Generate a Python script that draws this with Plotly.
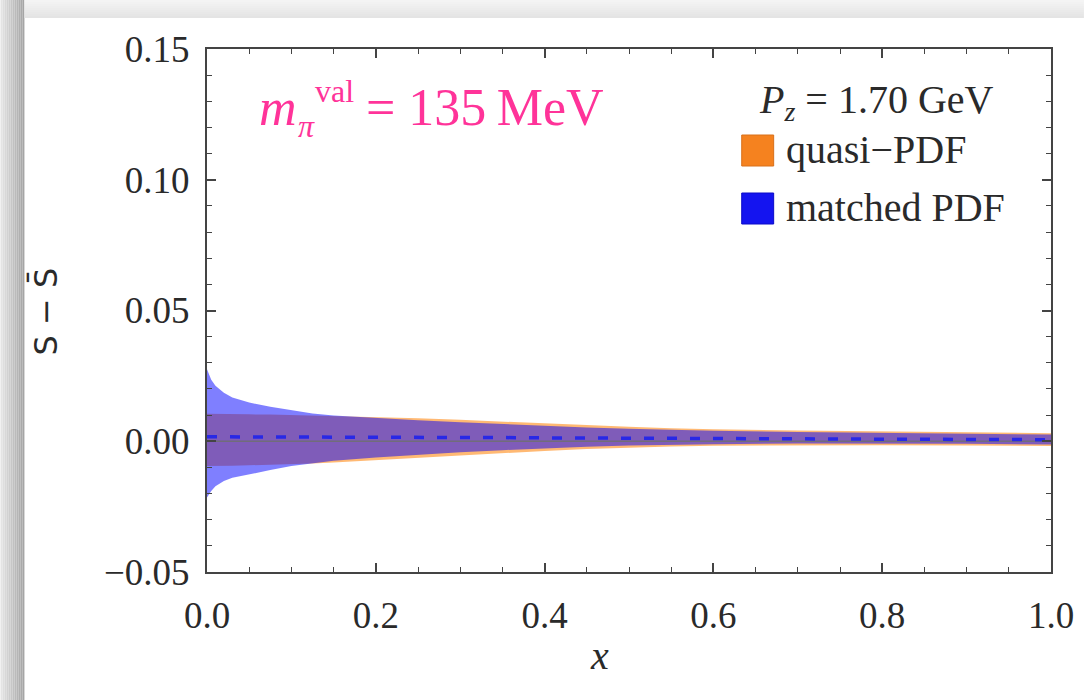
import plotly.graph_objects as go

# ---------------- data ----------------
x_pts = [0.0, 0.005, 0.01, 0.02, 0.03, 0.05, 0.075, 0.1, 0.125, 0.15, 0.2, 0.25,
         0.3, 0.35, 0.4, 0.45, 0.5, 0.55, 0.6, 0.7, 0.8, 0.9, 1.0]

quasi_upper = [0.0105, 0.0105, 0.0105, 0.0105, 0.0104, 0.0103, 0.0102, 0.0100, 0.0099,
               0.0097, 0.0093, 0.0088, 0.0082, 0.0075, 0.0068, 0.0061, 0.0055, 0.0050,
               0.0046, 0.0041, 0.0037, 0.0034, 0.0031]
quasi_lower = [-0.0095, -0.0095, -0.0095, -0.0094, -0.0094, -0.0092, -0.0090, -0.0088,
               -0.0085, -0.0081, -0.0072, -0.0062, -0.0053, -0.0044, -0.0037, -0.0030,
               -0.0024, -0.0020, -0.0017, -0.0015, -0.0015, -0.0016, -0.0018]

matched_upper = [0.0275, 0.0235, 0.0212, 0.0185, 0.0167, 0.0148, 0.0132, 0.0118, 0.0106,
                 0.0098, 0.0088, 0.0080, 0.0073, 0.0066, 0.0059, 0.0053, 0.0048, 0.0044,
                 0.0040, 0.0035, 0.0032, 0.0029, 0.0026]
matched_lower = [-0.0215, -0.0190, -0.0172, -0.0152, -0.0140, -0.0126, -0.0110, -0.0095,
                 -0.0084, -0.0075, -0.0062, -0.0051, -0.0042, -0.0034, -0.0027, -0.0021,
                 -0.0016, -0.0013, -0.0011, -0.0009, -0.0009, -0.0010, -0.0012]
matched_center = [0.0017, 0.0017, 0.0017, 0.0017, 0.0017, 0.0017, 0.0017, 0.0017, 0.0016,
                  0.0016, 0.0016, 0.0015, 0.0015, 0.0014, 0.0013, 0.0012, 0.0011, 0.0010,
                  0.0010, 0.0009, 0.0008, 0.0007, 0.0006]

series_names = ["quasi\u2212PDF", "matched PDF"]
legend_title = "<i>P</i><sub><i>z</i></sub> = 1.70 GeV"
x_range = [0.0, 1.0]
y_range = [-0.05, 0.15]

# ---------------- styling ----------------
W, H = 1086, 700
L, R, T, B = 207, 1053, 49, 572
SERIF = "Liberation Serif"
ORANGE_FILL = "rgba(255,128,0,0.55)"
BLUE_FILL = "rgba(0,0,255,0.5)"
PINK = "#FF3399"
AX = "#444444"
TXT = "#2a2a2a"


def px_x(p):
    return (p - L) / (R - L)


def px_y(p):
    return (B - p) / (B - T)


fig = go.Figure()

# quasi-PDF band
fig.add_trace(go.Scatter(x=x_pts, y=quasi_lower, mode="lines", line=dict(width=0),
                         showlegend=False, hoverinfo="skip"))
fig.add_trace(go.Scatter(x=x_pts, y=quasi_upper, mode="lines", line=dict(width=0),
                         fill="tonexty", fillcolor=ORANGE_FILL, name=series_names[0],
                         showlegend=False))
# matched PDF band
fig.add_trace(go.Scatter(x=x_pts, y=matched_lower, mode="lines", line=dict(width=0),
                         showlegend=False, hoverinfo="skip"))
fig.add_trace(go.Scatter(x=x_pts, y=matched_upper, mode="lines", line=dict(width=0),
                         fill="tonexty", fillcolor=BLUE_FILL, name=series_names[1],
                         showlegend=False))
# zero line
fig.add_trace(go.Scatter(x=x_range, y=[0, 0], mode="lines",
                         line=dict(color="rgba(110,110,110,0.85)", width=1.5),
                         showlegend=False, hoverinfo="skip"))
# matched central value (dashed)
fig.add_trace(go.Scatter(x=x_pts, y=matched_center, mode="lines",
                         line=dict(color="rgb(40,40,230)", width=3.5, dash="10px,13px"),
                         showlegend=False))

shapes = []
# drop shadow of the framed picture (left and top strips)
for i in range(12):
    t = i / 11
    g = int(228 - t * (228 - 165))
    shapes.append(dict(type="rect", xref="paper", yref="paper",
                       x0=px_x(2 * i), x1=px_x(2 * i + 2), y0=px_y(H), y1=px_y(0),
                       fillcolor=f"rgb({g},{g},{g})", line=dict(width=0), layer="below"))
for j in range(9):
    t = j / 8
    g = int(244 - t * (244 - 228))
    shapes.append(dict(type="rect", xref="paper", yref="paper",
                       x0=px_x(24), x1=px_x(W), y0=px_y(2 * j + 2), y1=px_y(2 * j),
                       fillcolor=f"rgb({g},{g},{g})", line=dict(width=0), layer="below"))

# legend swatches
shapes.append(dict(type="rect", xref="paper", yref="paper",
                   x0=px_x(743), x1=px_x(775), y0=px_y(166), y1=px_y(135),
                   fillcolor="#F5821F", line=dict(color="#D8701A", width=1)))
shapes.append(dict(type="rect", xref="paper", yref="paper",
                   x0=px_x(743), x1=px_x(775), y0=px_y(224), y1=px_y(193),
                   fillcolor="#1414F0", line=dict(color="#0A0AC8", width=1)))

annotations = [
    # legend
    dict(text=legend_title, x=px_x(878), y=px_y(102), xanchor="center", yanchor="middle",
         font=dict(family=SERIF, size=40, color=TXT)),
    dict(text=series_names[0], x=px_x(785), y=px_y(150), xanchor="left", yanchor="middle",
         font=dict(family=SERIF, size=40, color=TXT)),
    dict(text=series_names[1], x=px_x(785), y=px_y(208), xanchor="left", yanchor="middle",
         font=dict(family=SERIF, size=40, color=TXT)),
    # pion-mass label
    dict(text="<i>m</i>", x=px_x(257), y=px_y(107), xanchor="left", yanchor="middle",
         font=dict(family=SERIF, size=52, color=PINK)),
    dict(text="<i>\u03c0</i>", x=px_x(296), y=px_y(126), xanchor="left", yanchor="middle",
         font=dict(family=SERIF, size=32, color=PINK)),
    dict(text="val", x=px_x(313), y=px_y(91), xanchor="left", yanchor="middle",
         font=dict(family=SERIF, size=32, color=PINK)),
    dict(text="= 135\u2009MeV", x=px_x(364), y=px_y(107), xanchor="left", yanchor="middle",
         font=dict(family=SERIF, size=52, color=PINK)),
    # axis titles
    dict(text="<i>x</i>", x=px_x(600), y=px_y(655), xanchor="center", yanchor="middle",
         font=dict(family=SERIF, size=40, color=TXT)),
    dict(text="S \u2212 S\u0304", x=px_x(45), y=px_y(311), xanchor="center", yanchor="middle",
         textangle=-90, font=dict(family="DejaVu Sans", size=32, color=TXT)),
]
for a in annotations:
    a.update(xref="paper", yref="paper", showarrow=False)

axis_common = dict(
    showgrid=False, zeroline=False, showline=True, linecolor=AX, linewidth=2,
    mirror="allticks", ticks="inside", ticklen=9, tickwidth=1.5, tickcolor=AX,
    tickfont=dict(family=SERIF, size=37, color=TXT),
)

fig.update_layout(
    width=W, height=H,
    margin=dict(l=L, r=W - R, t=T, b=H - B, pad=0),
    paper_bgcolor="white", plot_bgcolor="white",
    showlegend=False,
    xaxis=dict(range=x_range, dtick=0.2, tick0=0, tickformat=".1f",
               minor=dict(ticks="inside", dtick=0.05, ticklen=5, tickwidth=1.2, tickcolor=AX),
               ticklabelstandoff=10, **axis_common),
    yaxis=dict(range=y_range, dtick=0.05, tick0=0, tickformat=".2f",
               minor=dict(ticks="inside", dtick=0.01, ticklen=5, tickwidth=1.2, tickcolor=AX),
               ticklabelstandoff=8, **axis_common),
    shapes=shapes,
    annotations=annotations,
)

fig.write_html("out.html")
